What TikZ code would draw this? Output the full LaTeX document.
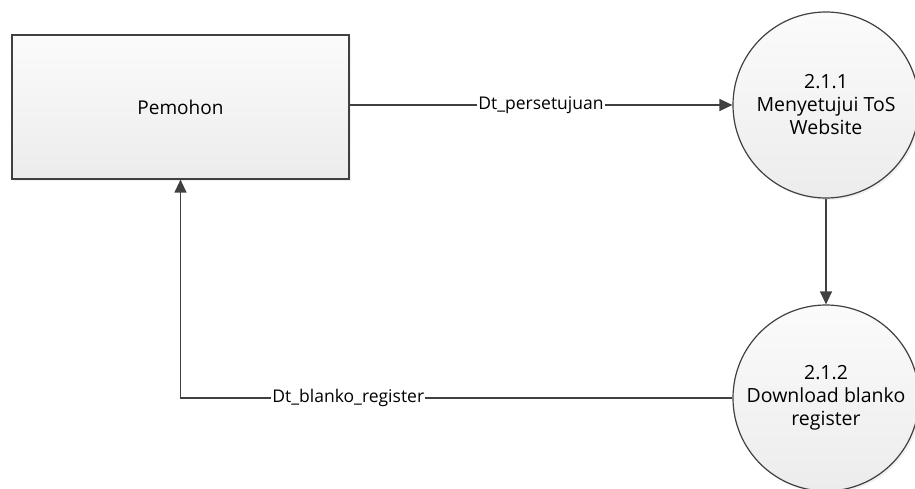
\documentclass[tikz,border=0pt]{standalone}
\usepackage{fontspec}
\setmainfont{Open Sans}
\usetikzlibrary{arrows.meta,positioning,shadows}
\definecolor{linegray}{HTML}{404040}
\definecolor{filltop}{HTML}{FBFBFB}
\definecolor{fillbot}{HTML}{ECECEC}

\begin{document}
\begin{tikzpicture}[x=1pt,y=-1pt,
    shape base/.style={draw=linegray, line width=1.2pt, top color=filltop, bottom color=fillbot,
        drop shadow={opacity=0.12, shadow xshift=2pt, shadow yshift=-2pt}},
    entity/.style={shape base, rectangle, minimum width=337pt, minimum height=144pt,
        font=\fontsize{19}{22}\selectfont},
    proc/.style={shape base, circle, minimum size=186pt, align=center,
        font=\fontsize{19.5}{23}\selectfont},
    flow/.style={draw=linegray, line width=1.2pt, -{Triangle[length=13pt,width=12pt]}},
    lbl/.style={fill=white, inner sep=1pt, font=\fontsize{17.5}{20}\selectfont}]
    \useasboundingbox (0,0) rectangle (915,489);
    \node[entity] (pemohon) at (180.5,107) {Pemohon};
    \node[proc] (p211) at (826,105) {2.1.1\\Menyetujui ToS\\Website};
    \node[proc] (p212) at (826,398) {2.1.2\\Download blanko\\register};
    \draw[flow] (pemohon.east |- p211.west) -- (p211.west) node[lbl,midway]{Dt\_persetujuan};
    \draw[flow] (p211.south) -- (p212.north);
    \draw[flow] (p212.west) -| (pemohon.south) node[lbl,pos=0.348]{Dt\_blanko\_register};
\end{tikzpicture}
\end{document}
